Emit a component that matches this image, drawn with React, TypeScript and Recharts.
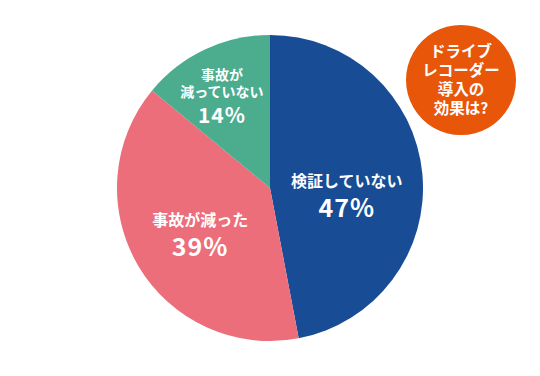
import { PieChart, Pie, Cell } from "recharts";

const CATEGORIES = ["検証していない", "事故が減った", "事故が\n減っていない"];
const VALUES = [47, 39, 14];
const COLORS = ["#184C95", "#EB6E7A", "#4BAC8E"];
const BADGE_LINES = ["ドライブ", "レコーダー", "導入の", "効果は?"];

const FONT = "'Noto Sans CJK JP', 'Noto Sans', sans-serif";
const RAD = Math.PI / 180;

// label placement per slice: radius ratio, angle nudge, font sizes
const LABEL_R = [0.505, 0.55, 0.68];
const LABEL_NUDGE = [-11.3, 3.3, 2.3];
const NAME_SIZE = [16, 16, 14];
const PCT_SIZE = [25, 25, 21];

const data = CATEGORIES.map((name, i) => ({ name, value: VALUES[i] }));

function SliceLabel(props: any) {
  const { cx, cy, midAngle, outerRadius, index } = props;
  const r = outerRadius * LABEL_R[index];
  const a = (midAngle + LABEL_NUDGE[index]) * RAD;
  const x = cx + r * Math.cos(-a);
  const y = cy + r * Math.sin(-a);
  const lines = CATEGORIES[index].split("\n");
  const nameStep = NAME_SIZE[index] + 3;
  const pctGap = PCT_SIZE[index] + 5;
  const total = lines.length * nameStep + pctGap;
  const top = y - total / 2;
  const firstName = top + nameStep - 3;
  const lastName = firstName + nameStep * (lines.length - 1);
  return (
    <g fontFamily={FONT} fontWeight={700} fill="#fff" textAnchor="middle">
      <text x={x} y={firstName} fontSize={NAME_SIZE[index]}>
        {lines.map((l, i) => (
          <tspan key={i} x={x} dy={i === 0 ? 0 : nameStep}>{l}</tspan>
        ))}
      </text>
      <text x={x} y={lastName + pctGap} fontSize={PCT_SIZE[index]} letterSpacing={1}>{VALUES[index]}%</text>
    </g>
  );
}

function BadgeLabel(props: any) {
  const { cx, cy } = props;
  const step = 18.7;
  const y0 = cy - (step * (BADGE_LINES.length - 1)) / 2 + 5.5;
  return (
    <text x={cx} y={y0} fontFamily={FONT} fontWeight={700} fill="#fff" textAnchor="middle" fontSize={15.5}>
      {BADGE_LINES.map((l, i) => (
        <tspan key={i} x={cx} dy={i === 0 ? 0 : step}>{l}</tspan>
      ))}
    </text>
  );
}

export default function App() {
  return (
    <div style={{ position: "absolute", left: 0, top: 0, width: 540, height: 376, background: "#fff" }}>
      <PieChart width={540} height={376} margin={{ top: 0, right: 0, bottom: 0, left: 0 }}>
        <Pie
          data={data}
          dataKey="value"
          cx={270}
          cy={188}
          outerRadius={153}
          startAngle={90}
          endAngle={-270}
          stroke="none"
          labelLine={false}
          label={SliceLabel}
          isAnimationActive={false}
        >
          {data.map((d, i) => <Cell key={d.name} fill={COLORS[i]} />)}
        </Pie>
        <Pie
          data={[{ name: "badge", value: 1 }]}
          dataKey="value"
          cx={461}
          cy={80}
          outerRadius={55}
          stroke="none"
          fill="#E8560A"
          labelLine={false}
          label={BadgeLabel}
          isAnimationActive={false}
        />
      </PieChart>
    </div>
  );
}
